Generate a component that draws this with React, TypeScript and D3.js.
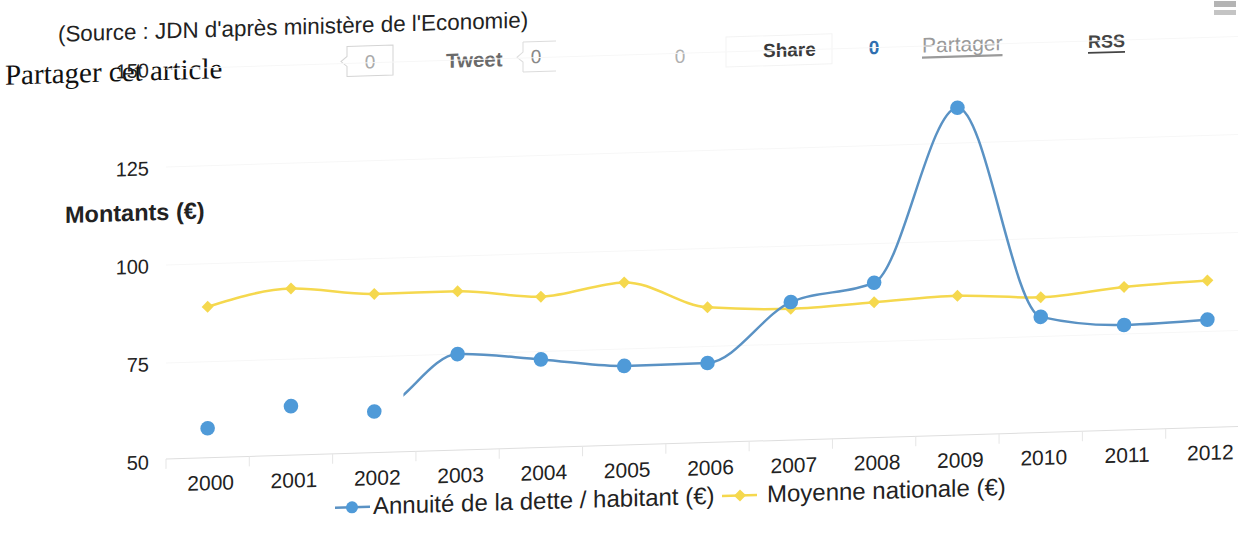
import React from 'react'
import * as d3 from 'd3'

// values
const years = ['2000', '2001', '2002', '2003', '2004', '2005', '2006', '2007', '2008', '2009', '2010', '2011', '2012']
const annuite = [58, 63, 61, 75, 73, 70.7, 70.8, 85.7, 90, 134, 80, 77.3, 78]
const moyenne = [89, 93, 91, 91, 89, 92, 85, 84, 85, 86, 85, 87, 88]
const yTicks = [50, 75, 100, 125, 150]

const seriesNames = ['Annuité de la dette / habitant (€)', 'Moyenne nationale (€)']

const W = 1238
const H = 535
const BLUE_LINE = '#5a92c4'
const BLUE_DOT = '#4f9ad8'
const YELLOW = '#f5d84e'
const FONT = '"Liberation Sans", Arial, sans-serif'

// the scan is a little crooked: horizontal lines climb to the right
const tilt = 'translate(0,3.9) skewY(-1.73)'

export default function App() {
  const x = d3.scaleBand<string>().domain(years).range([166, 1249])
  const y = d3.scaleLinear().domain([50, 150]).range([462, 70])
  const cx = (yr: string) => (x(yr) ?? 0) + x.bandwidth() / 2

  const line = d3
    .line<number>()
    .x((_, i) => cx(years[i]))
    .y((d) => y(d))
    .curve(d3.curveMonotoneX)

  const diamond = (r: number) => `M0,${-r}L${r},0L0,${r}L${-r},0Z`
  // the blue line only shows from part way between 2002 and 2003
  const clipStart = cx('2002') + x.bandwidth() * 0.35

  return (
    <svg
      width={W}
      height={H}
      style={{ position: 'absolute', left: 0, top: 0, background: '#fff' }}
      fontFamily={FONT}
    >
      <defs>
        <clipPath id="blue-clip">
          <rect x={clipStart} y={0} width={W} height={H} />
        </clipPath>
      </defs>

      {/* menu icon */}
      <rect x={1214} y={1} width={22} height={6} fill="#b4b4b4" />
      <rect x={1214} y={10} width={22} height={5} fill="#c4c4c4" />

      <g transform={tilt}>
        {/* header */}
        <text x={58} y={32} fontSize={22.4} fill="#222" dominantBaseline="central">
          (Source : JDN d'après ministère de l'Economie)
        </text>
        <text x={5} y={71} fontSize={29} fill="#111" fontFamily='"Liberation Serif", "Times New Roman", serif' dominantBaseline="central">
          Partager cet article
        </text>

        {/* share bar */}
        <path d="M347,53 H393 V83 H347 V73 L341,68 L347,63 Z" fill="#fff" stroke="#d4d4d4" />
        <text x={370} y={69} fontSize={19} fill="#aaa" textAnchor="middle" dominantBaseline="central">0</text>
        <text x={446} y={70} fontSize={20.5} fontWeight="bold" fill="#6a6a6a" dominantBaseline="central">Tweet</text>
        <path d="M523,54 H556 M523,84 H556 M523,54 V64 L517,69 L523,74 V84" fill="none" stroke="#dcdcdc" />
        <text x={536} y={69} fontSize={19} fill="#888" textAnchor="middle" dominantBaseline="central">0</text>
        <text x={680} y={73} fontSize={19} fill="#b0b0b0" textAnchor="middle" dominantBaseline="central">0</text>
        <rect x={726} y={55} width={106} height={30} fill="none" stroke="#f3f3f3" />
        <text x={763} y={70} fontSize={19} fontWeight="bold" fill="#3a3a3a" dominantBaseline="central">Share</text>
        <text x={874} y={70} fontSize={19} fontWeight="bold" fill="#2f6fb0" textAnchor="middle" dominantBaseline="central">0</text>
        <text x={922} y={69} fontSize={21} fill="#9a9a9a" textDecoration="underline" dominantBaseline="central">Partager</text>
        <text x={1088} y={71} fontSize={18} fontWeight="bold" fill="#444" textDecoration="underline" dominantBaseline="central">RSS</text>

        {/* grid + y labels */}
        {yTicks.map((t) => (
          <g key={t}>
            {t > 50 && <line x1={166} x2={1249} y1={y(t)} y2={y(t)} stroke="#f7f7f7" />}
            <text x={149} y={y(t) + 1} fontSize={20} fill="#222" textAnchor="end" dominantBaseline="central">
              {t}
            </text>
          </g>
        ))}
        <text x={65} y={213} fontSize={23.5} fontWeight="bold" fill="#222" dominantBaseline="central">
          Montants (€)
        </text>

        {/* x axis */}
        <line x1={166} x2={1249} y1={y(50) - 2} y2={y(50) - 2} stroke="#dedede" />
        {years.map((yr) => (
          <g key={yr}>
            <line x1={x(yr)} x2={x(yr)} y1={y(50) - 2} y2={y(50) + 8} stroke="#e6e6e6" />
            <text x={cx(yr) + 3} y={485} fontSize={21} fill="#222" textAnchor="middle" dominantBaseline="central">
              {yr}
            </text>
          </g>
        ))}

        {/* series */}
        <path d={line(moyenne) ?? ''} fill="none" stroke={YELLOW} strokeWidth={2.5} />
        {moyenne.map((v, i) => (
          <path key={i} d={diamond(6)} transform={`translate(${cx(years[i])},${y(v)})`} fill={YELLOW} />
        ))}
        <path d={line(annuite) ?? ''} fill="none" stroke={BLUE_LINE} strokeWidth={2.5} clipPath="url(#blue-clip)" />
        {annuite.map((v, i) => (
          <circle key={i} cx={cx(years[i])} cy={y(v)} r={7.3} fill={BLUE_DOT} />
        ))}

        {/* legend */}
        <line x1={335} x2={370} y1={514} y2={514} stroke={BLUE_LINE} strokeWidth={2.5} />
        <circle cx={352} cy={514} r={6} fill={BLUE_DOT} />
        <text x={373} y={513} fontSize={24} fill="#222" dominantBaseline="central">{seriesNames[0]}</text>
        <line x1={722} x2={757} y1={514} y2={514} stroke={YELLOW} strokeWidth={2.5} />
        <path d={diamond(6)} transform="translate(740,514)" fill={YELLOW} />
        <text x={767} y={513} fontSize={24} fill="#222" dominantBaseline="central">{seriesNames[1]}</text>
      </g>
    </svg>
  )
}
